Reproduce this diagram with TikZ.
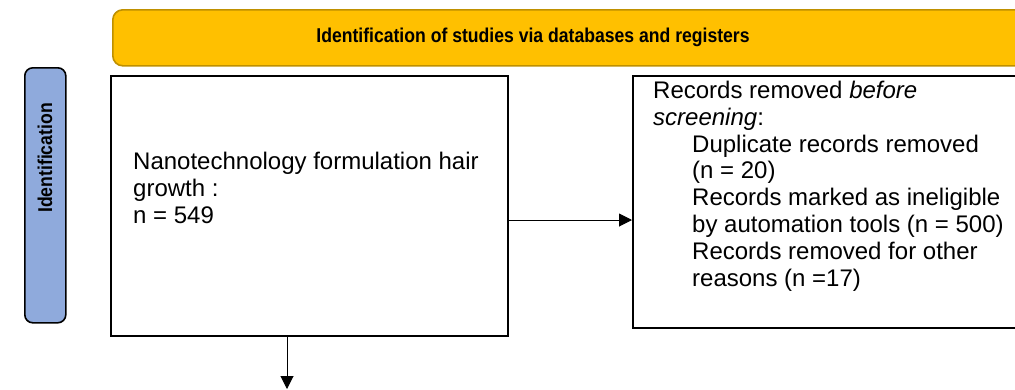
\documentclass[tikz,border=0pt]{standalone}
\usepackage{fontspec}
\setmainfont{Liberation Sans}
\newfontfamily\headfont[FakeStretch=0.88]{Liberation Sans}
\usetikzlibrary{positioning,arrows.meta}

\definecolor{bargold}{HTML}{FFC000}
\definecolor{bargoldline}{HTML}{BF9000}
\definecolor{sideblue}{HTML}{8FAADC}

\begin{document}
\begin{tikzpicture}[x=1pt,y=-1pt,
    titlebar/.style={draw=bargoldline,fill=bargold,line width=1.6pt,rounded corners=10pt,
      anchor=north west,inner sep=0pt,minimum width=918pt,minimum height=56pt},
    sidebox/.style={draw,fill=sideblue,line width=1.6pt,rounded corners=8pt,
      anchor=north west,inner sep=0pt,minimum width=41pt,minimum height=255pt},
    recbox/.style={draw,line width=1.8pt,anchor=north west,inner sep=0pt},
    bodytext/.style={align=left,inner sep=0pt,font=\fontsize{24pt}{26.8pt}\selectfont},
    headtext/.style={inner sep=0pt,font=\headfont\fontsize{20pt}{22pt}\selectfont\bfseries},
    arrow/.style={-{Triangle[length=13pt,width=13pt]},line width=1pt}]
\useasboundingbox (0,0) rectangle (1015,389);

% header and side label
\node[titlebar] (bar) at (112,9) {};
\node[headtext] (title) at (533,37) {Identification of studies via databases and registers};
\node[sidebox] (idbox) at (24,67) {};
\node[headtext,rotate=90] (idlabel) at (45,158) {Identification};

% boxes
\node[recbox,minimum width=397pt,minimum height=260pt] (search) at (110,75) {};
\node[recbox,minimum width=398pt,minimum height=252pt] (removed) at (632,75) {};
\node[bodytext,below right=77pt and 23pt of search.north west] (searchtext)
  {Nanotechnology formulation hair\\ growth :\\ n = 549};
\node[bodytext,below right=6pt and 21pt of removed.north west] (removedtext)
  {Records removed \textit{before}\\
   \textit{screening}:\\
   \hspace*{39pt}Duplicate records removed\\
   \hspace*{39pt}(n = 20)\\
   \hspace*{39pt}Records marked as ineligible\\
   \hspace*{39pt}by automation tools (n = 500)\\
   \hspace*{39pt}Records removed for other\\
   \hspace*{39pt}reasons (n =17)};

% arrows
\coordinate (arrowrow) at (0,220);
\coordinate (nextstep) at (287,389);
\draw[arrow] (search.east |- arrowrow) -- (removed.west |- arrowrow);
\draw[arrow] (search.south -| nextstep) -- (nextstep);
\end{tikzpicture}
\end{document}
